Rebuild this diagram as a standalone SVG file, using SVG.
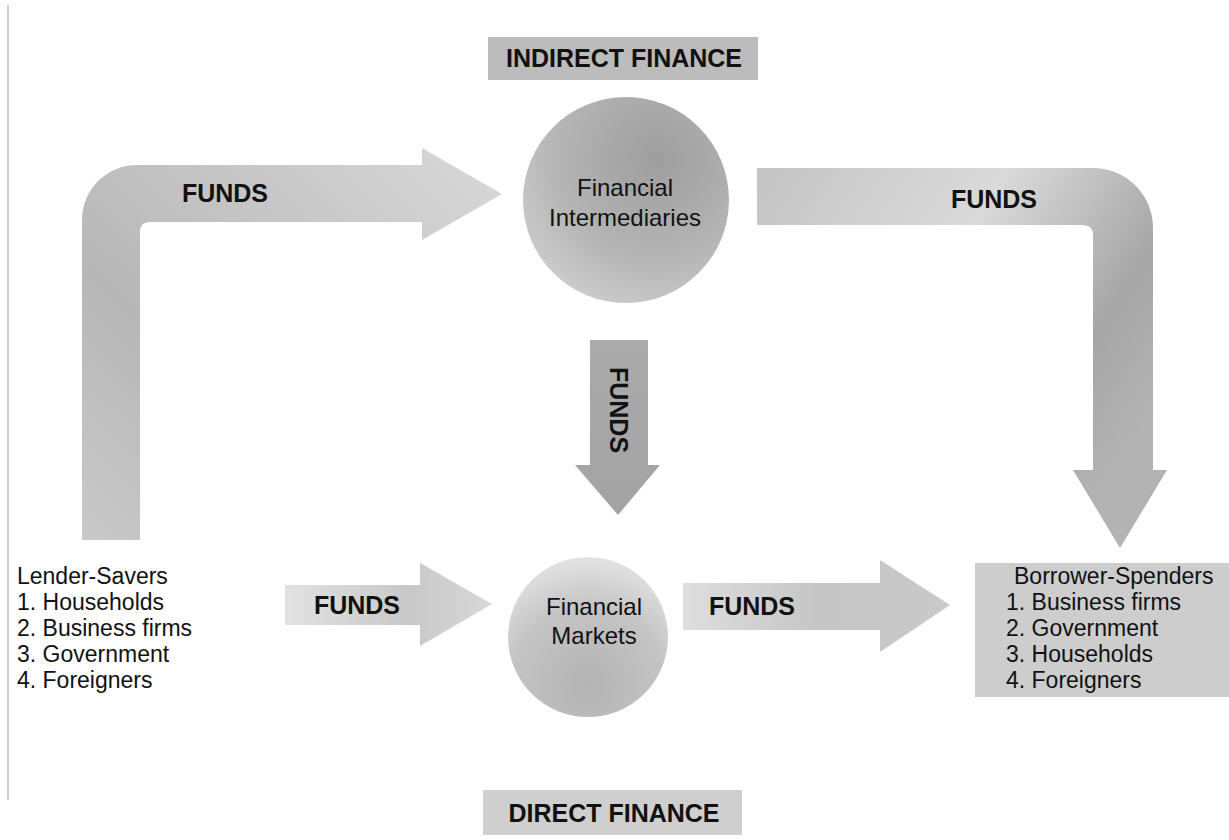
<svg xmlns="http://www.w3.org/2000/svg" width="1229" height="840" viewBox="0 0 1229 840">
  <defs>
    <style>
      .t { font-family: "Liberation Sans", Arial, sans-serif; font-size: 24px; fill: #111; }
      .l { font-family: "Liberation Sans", Arial, sans-serif; font-size: 23px; fill: #111; }
      .b { font-family: "Liberation Sans", Arial, sans-serif; font-weight: bold; font-size: 25px; fill: #111; }
      .lbl { font-family: "Liberation Sans", Arial, sans-serif; font-weight: bold; font-size: 25px; fill: #111; }
    </style>
    <linearGradient id="gLeftL" x1="0" y1="1" x2="1" y2="0">
      <stop offset="0" stop-color="#c9c9c9"/>
      <stop offset="0.35" stop-color="#b7b7b7"/>
      <stop offset="0.6" stop-color="#c4c4c4"/>
      <stop offset="1" stop-color="#d9d9d9"/>
    </linearGradient>
    <linearGradient id="gRightL" x1="0" y1="0" x2="1" y2="0.6">
      <stop offset="0" stop-color="#c4c4c4"/>
      <stop offset="0.45" stop-color="#dadada"/>
      <stop offset="0.8" stop-color="#a7a7a7"/>
      <stop offset="1" stop-color="#b3b3b3"/>
    </linearGradient>
    <linearGradient id="gDown" x1="0" y1="0" x2="0" y2="1">
      <stop offset="0" stop-color="#ababab"/>
      <stop offset="1" stop-color="#a3a3a3"/>
    </linearGradient>
    <linearGradient id="gBotL" x1="0" y1="0" x2="1" y2="0">
      <stop offset="0" stop-color="#e2e2e2"/>
      <stop offset="0.6" stop-color="#c8c8c8"/>
      <stop offset="1" stop-color="#d8d8d8"/>
    </linearGradient>
    <linearGradient id="gBotR" x1="0" y1="0" x2="1" y2="0">
      <stop offset="0" stop-color="#dedede"/>
      <stop offset="0.5" stop-color="#c6c6c6"/>
      <stop offset="1" stop-color="#c9c9c9"/>
    </linearGradient>
    <radialGradient id="gCircTop" cx="0.65" cy="0.3" r="0.8">
      <stop offset="0" stop-color="#9e9e9e"/>
      <stop offset="0.6" stop-color="#b4b4b4"/>
      <stop offset="1" stop-color="#cfcfcf"/>
    </radialGradient>
    <radialGradient id="gCircBot" cx="0.5" cy="0.8" r="0.8">
      <stop offset="0" stop-color="#b3b3b3"/>
      <stop offset="0.6" stop-color="#c4c4c4"/>
      <stop offset="1" stop-color="#e3e3e3"/>
    </radialGradient>
  </defs>

  <rect x="0" y="0" width="1229" height="840" fill="#ffffff"/>
  <line x1="8" y1="5" x2="8" y2="800" stroke="#cfcfcf" stroke-width="2"/>

  <g id="connectors">
    <g id="arrow-lender-to-intermediaries">
      <path d="M82,540 L82,220 A55,55 0 0 1 137,165 L422,165 L422,148 L502,194 L422,240 L422,222 L150,222 Q140,222 140,232 L140,540 Z" fill="url(#gLeftL)"/>
      <text class="b" x="225" y="202" text-anchor="middle">FUNDS</text>
    </g>
    <g id="arrow-intermediaries-to-borrower">
      <path d="M757,168 L1093,168 A60,60 0 0 1 1153,228 L1153,470 L1167,470 L1120,548 L1073,470 L1093,470 L1093,235 Q1093,225 1083,225 L757,225 Z" fill="url(#gRightL)"/>
      <text class="b" x="994" y="208" text-anchor="middle">FUNDS</text>
    </g>
    <g id="arrow-intermediaries-to-markets">
      <path d="M590,340 L648,340 L648,465 L660,465 L618,515 L575,465 L590,465 Z" fill="url(#gDown)"/>
      <text class="b" x="0" y="0" text-anchor="middle" transform="translate(610,410) rotate(90)">FUNDS</text>
    </g>
    <g id="arrow-lender-to-markets">
      <path d="M285,585 L420,585 L420,563 L492,604 L420,646 L420,625 L285,625 Z" fill="url(#gBotL)"/>
      <text class="b" x="357" y="614" text-anchor="middle">FUNDS</text>
    </g>
    <g id="arrow-markets-to-borrower">
      <path d="M683,583 L880,583 L880,560 L950,605 L880,652 L880,630 L683,630 Z" fill="url(#gBotR)"/>
      <text class="b" x="752" y="615" text-anchor="middle">FUNDS</text>
    </g>
  </g>

  <g id="indirect-finance-label">
    <rect x="488" y="37" width="270" height="43" fill="#bcbcbc"/>
    <text class="lbl" x="624" y="67" text-anchor="middle">INDIRECT FINANCE</text>
  </g>

  <g id="financial-intermediaries">
    <circle cx="626" cy="200" r="103" fill="url(#gCircTop)"/>
    <text class="t" x="625" y="196" text-anchor="middle">Financial</text>
    <text class="t" x="625" y="226" text-anchor="middle">Intermediaries</text>
  </g>

  <g id="financial-markets">
    <circle cx="588" cy="637" r="80" fill="url(#gCircBot)"/>
    <text class="t" x="594" y="615" text-anchor="middle">Financial</text>
    <text class="t" x="594" y="644" text-anchor="middle">Markets</text>
  </g>

  <g id="lender-savers">
    <text class="l" x="17" y="584">Lender-Savers</text>
    <text class="l" x="17" y="610">1. Households</text>
    <text class="l" x="17" y="636">2. Business firms</text>
    <text class="l" x="17" y="662">3. Government</text>
    <text class="l" x="17" y="688">4. Foreigners</text>
  </g>

  <g id="borrower-spenders">
    <rect x="975" y="563" width="254" height="134" fill="#cdcdcd"/>
    <text class="l" x="1014" y="584">Borrower-Spenders</text>
    <text class="l" x="1006" y="610">1. Business firms</text>
    <text class="l" x="1006" y="636">2. Government</text>
    <text class="l" x="1006" y="662">3. Households</text>
    <text class="l" x="1006" y="688">4. Foreigners</text>
  </g>

  <g id="direct-finance-label">
    <rect x="483" y="790" width="259" height="45" fill="#cfcfcf"/>
    <text class="lbl" x="614" y="822" text-anchor="middle">DIRECT FINANCE</text>
  </g>
</svg>
